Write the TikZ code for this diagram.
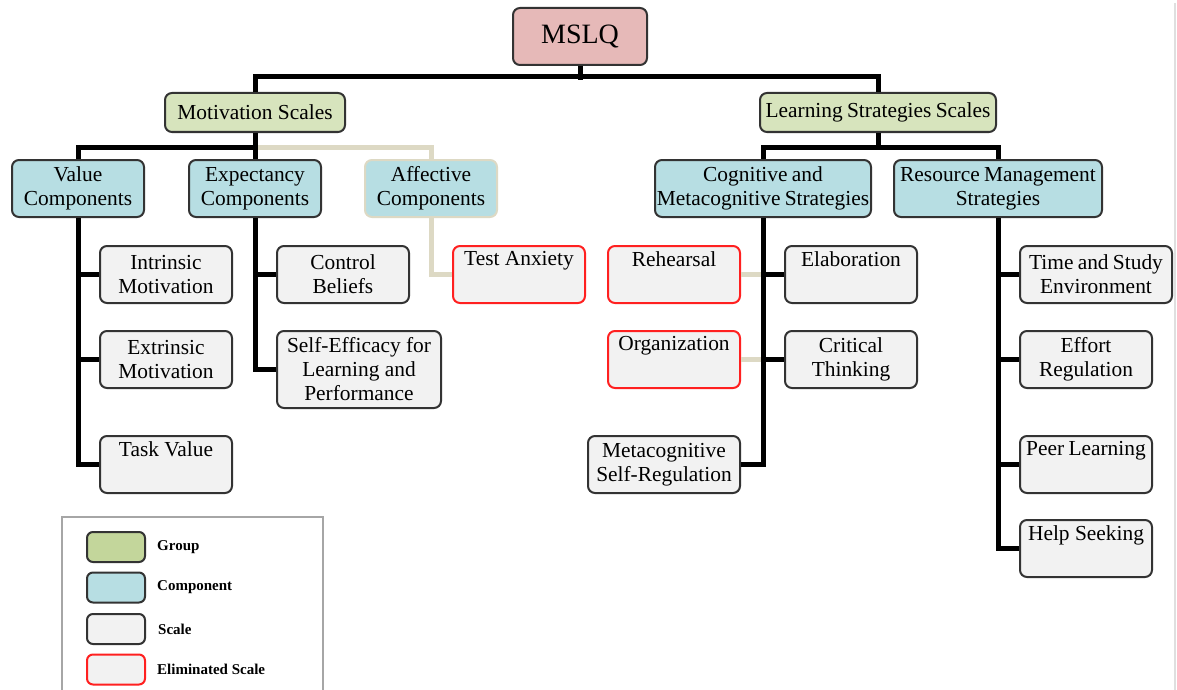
\documentclass[tikz,border=0pt]{standalone}
\usepackage{fontspec}
\setmainfont{Liberation Serif}
\definecolor{rootfill}{HTML}{E6B9B8}
\definecolor{groupfill}{HTML}{D7E4BD}
\definecolor{groupkey}{HTML}{C3D69B}
\definecolor{compfill}{HTML}{B7DEE3}
\definecolor{scalefill}{HTML}{F2F2F2}
\definecolor{edgegray}{HTML}{333333}
\definecolor{beige}{HTML}{DDD9C4}
\definecolor{elimred}{HTML}{FF2020}
\tikzset{
  box/.style={draw=edgegray, line width=2pt, rounded corners=7pt, inner sep=0pt,
    align=center, font=\fontsize{21.4}{24}\selectfont},
  rootbox/.style={box, fill=rootfill, font=\fontsize{28}{30}\selectfont},
  groupbox/.style={box, fill=groupfill},
  compbox/.style={box, fill=compfill},
  fadedcomp/.style={box, fill=compfill, draw=beige},
  scalebox/.style={box, fill=scalefill},
  elimbox/.style={box, fill=scalefill, draw=elimred},
  link/.style={line width=5pt, black},
  fadedlink/.style={line width=5pt, beige},
  keybox/.style={draw=edgegray, line width=2pt, rounded corners=6pt,
    minimum width=58pt, minimum height=30pt, inner sep=0pt},
  keytext/.style={anchor=west, inner sep=0pt, font=\bfseries\fontsize{15}{17}\selectfont},
}
\begin{document}
\begin{tikzpicture}[x=1pt, y=-1pt]
\useasboundingbox (0,0) rectangle (1177,690);
\fill[white] (0,0) rectangle (1177,690);
% thin frame line on the right edge
\draw[line width=1.5pt, gray!25] (1175,3) -- (1175,690);

% root and groups
\node[rootbox, minimum width=134pt, minimum height=57pt] (mslq) at (580,36.5) {MSLQ};
\node[groupbox, minimum width=180pt, minimum height=39pt] (mot) at (255,112.5) {Motivation Scales};
\node[groupbox, minimum width=236pt, minimum height=39pt] (lss) at (878,112.5) {\spaceskip=0.2em Learning Strategies Scales};

% motivation components
\node[compbox, minimum width=132pt, minimum height=57pt] (val) at (78,188.5) {Value\\Components};
\node[compbox, minimum width=132pt, minimum height=57pt] (exp) at (255,188.5) {Expectancy\\Components};
\node[fadedcomp, minimum width=132pt, minimum height=57pt] (aff) at (431,188.5) {Affective\\Components};

% learning strategy components
\node[compbox, minimum width=216pt, minimum height=57pt] (cog) at (763,188.5) {\spaceskip=0.2em Cognitive and\\\spaceskip=0.2em Metacognitive Strategies};
\node[compbox, minimum width=208pt, minimum height=57pt] (res) at (998,188.5) {\spaceskip=0.2em Resource Management\\Strategies};

% motivation scales
\node[scalebox, minimum width=132pt, minimum height=57pt] (intr) at (166,274.5) {Intrinsic\\Motivation};
\node[scalebox, minimum width=132pt, minimum height=57pt] (extr) at (166,359.5) {Extrinsic\\Motivation};
\node[scalebox, minimum width=132pt, minimum height=57pt] (task) at (166,464.5) {Task Value\\\strut};
\node[scalebox, minimum width=132pt, minimum height=57pt] (ctrl) at (343,274.5) {Control\\Beliefs};
\node[scalebox, minimum width=164pt, minimum height=77pt] (self) at (359,369.5) {Self-Efficacy for\\Learning and\\Performance};
\node[elimbox, minimum width=132pt, minimum height=57pt] (test) at (519,274.5) {Test Anxiety\\\strut};

% cognitive and metacognitive scales
\node[elimbox, minimum width=132pt, minimum height=57pt] (reh) at (674,274.5) {Rehearsal\\\strut};
\node[elimbox, minimum width=132pt, minimum height=57pt] (org) at (674,359.5) {Organization\\\strut};
\node[scalebox, minimum width=152pt, minimum height=57pt] (meta) at (664,464.5) {Metacognitive\\Self-Regulation};
\node[scalebox, minimum width=132pt, minimum height=57pt] (elab) at (851,274.5) {Elaboration\\\strut};
\node[scalebox, minimum width=132pt, minimum height=57pt] (crit) at (851,359.5) {Critical\\Thinking};

% resource management scales
\node[scalebox, minimum width=152pt, minimum height=57pt] (time) at (1096,274.5) {\spaceskip=0.2em Time and Study\\Environment};
\node[scalebox, minimum width=132pt, minimum height=57pt] (eff) at (1086,359.5) {Effort\\Regulation};
\node[scalebox, minimum width=132pt, minimum height=57pt] (peer) at (1086,464.5) {\spaceskip=0.2em Peer Learning\\\strut};
\node[scalebox, minimum width=132pt, minimum height=57pt] (help) at (1086,548.5) {Help Seeking\\\strut};

% connectors (faded ones first, solid ones on top)
\draw[fadedlink] (mot.south) -- ++(0,14) -| (aff.north);
\draw[fadedlink] (aff.south) |- (test.west);
\draw[fadedlink] (cog.south |- reh.east) -- (reh.east);
\draw[fadedlink] (cog.south |- org.east) -- (org.east);

\draw[link] (mslq.south) -- ++(0,14);
\draw[link] (mot.north) -- ++(0,-15) -| (lss.north);
\draw[link] (mot.south) -- ++(0,14) -| (val.north);
\draw[link] (mot.south) -- (exp.north);
\draw[link] (val.south) |- (task.west);
\draw[link] (val.south |- intr.west) -- (intr.west);
\draw[link] (val.south |- extr.west) -- (extr.west);
\draw[link] (exp.south) |- (self.west);
\draw[link] (exp.south |- ctrl.west) -- (ctrl.west);

\draw[link] (lss.south) -- ++(0,14) -| (cog.north);
\draw[link] (lss.south) -- ++(0,14) -| (res.north);
\draw[link] (cog.south) |- (meta.east);
\draw[link] (cog.south |- elab.west) -- (elab.west);
\draw[link] (cog.south |- crit.west) -- (crit.west);
\draw[link] (res.south) |- (help.west);
\draw[link] (res.south |- time.west) -- (time.west);
\draw[link] (res.south |- eff.west) -- (eff.west);
\draw[link] (res.south |- peer.west) -- (peer.west);

% legend
\draw[line width=1.5pt, gray!70] (62,700) -- (62,517) -- (323,517) -- (323,700);
\node[keybox, fill=groupkey] (kg) at (116,547) {};
\node[keybox, fill=compfill] (kc) at (116,587.5) {};
\node[keybox, fill=scalefill] (ks) at (116,629) {};
\node[keybox, fill=scalefill, draw=elimred] (ke) at (116,669.5) {};
\node[keytext] (lg) at (157,547) {Group};
\node[keytext] (lc) at (157,587.5) {Component};
\node[keytext] (ls) at (158,629) {Scale};
\node[keytext] (le) at (157,669.5) {Eliminated Scale};
\end{tikzpicture}
\end{document}
